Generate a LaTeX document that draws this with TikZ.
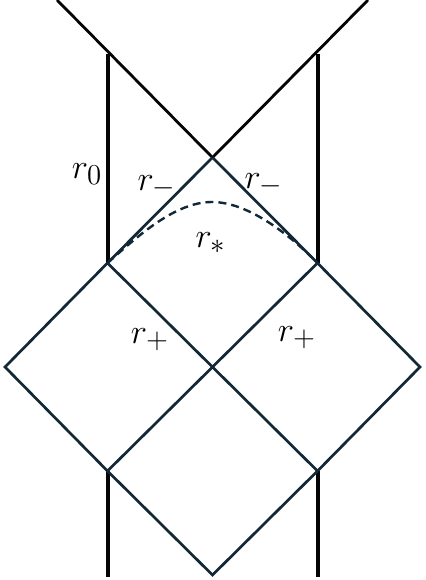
\documentclass[tikz,border=0pt]{standalone}
\usepackage{amsmath, amssymb}
\usepackage{tikz}
\usetikzlibrary{calc, positioning}
\definecolor{DeepNavy}{RGB}{18, 40, 54}
\definecolor{InkBlack}{RGB}{5, 5, 5}

\begin{document}
\begin{tikzpicture}[x=0.5pt, y=-0.5pt,
    horizon/.style={DeepNavy, line width=1.35pt},
    outer/.style={InkBlack, line width=1.4pt},
    wall/.style={InkBlack, line width=2pt},
    lbl/.style={font=\fontsize{19}{22}\selectfont, inner sep=0pt}]
    \useasboundingbox (0,0) rectangle (425,580);

    % Vertices
    \coordinate (tl) at (57,0);
    \coordinate (tr) at (368,0);
    \coordinate (c) at (212.5,157.5);
    \coordinate (a) at (107.5,263);
    \coordinate (b) at (317.5,263);
    \coordinate (m) at (212.5,367);
    \coordinate (l) at (5,367);
    \coordinate (r) at (420,367);
    \coordinate (d) at (107.5,471);
    \coordinate (e) at (317.5,471);
    \coordinate (bt) at (212.5,575);

    % Paredes
    \draw[wall] (107.5,54) -- (a);
    \draw[wall] (317.5,54) -- (b);
    \draw[wall] (d) -- (107.5,577);
    \draw[wall] (e) -- (317.5,577);

    % Lineas superiores
    \draw[outer] (tl) -- (c);
    \draw[outer] (tr) -- (c);

    % Horizontes
    \draw[horizon] (c) -- (a);
    \draw[horizon] (c) -- (b);
    \draw[horizon, line join=miter] (a) -- (l) -- (d);
    \draw[horizon, line join=miter] (b) -- (r) -- (e);
    \draw[horizon] (a) -- (m) -- (e);
    \draw[horizon] (b) -- (m) -- (d);
    \draw[horizon, line join=miter] (d) -- (bt) -- (e);

    % Curva punteada
    \draw[DeepNavy, line width=1.2pt, dash pattern=on 4pt off 2.5pt]
        (a) .. controls (138,236) and (175,202) .. (212,202)
            .. controls (250,202) and (293,238) .. (b);

    % Etiquetas
    \node[lbl] (r0) at (87,174) {$r_0$};
    \node[lbl] (rml) at (157,187) {$r_-$};
    \node[lbl] (rmr) at (264,185) {$r_-$};
    \node[lbl] (rst) at (211,243) {$r_*$};
    \node[lbl] (rpl) at (150,340) {$r_+$};
    \node[lbl] (rpr) at (297,338) {$r_+$};
\end{tikzpicture}
\end{document}
